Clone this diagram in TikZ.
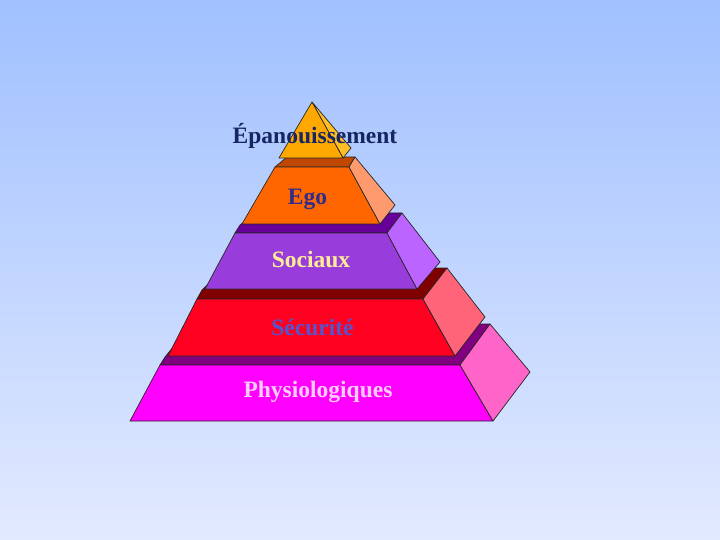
\documentclass[tikz,border=0pt]{standalone}
\usepackage{fontspec}
\setmainfont{Liberation Serif}
\begin{document}
\begin{tikzpicture}[x=1pt,y=-1pt,
  face/.style={draw=black!85, line width=0.7pt, line join=round},
  lbl/.style={anchor=base, inner sep=0pt, font=\fontsize{23.5}{26}\selectfont\bfseries}]
\definecolor{bgtop}{RGB}{160,192,255}
\definecolor{bgbot}{RGB}{226,234,255}
\definecolor{triF}{RGB}{255,168,0}
\definecolor{triS}{RGB}{255,190,40}
\definecolor{egoF}{RGB}{255,102,0}
\definecolor{egoT}{RGB}{192,72,0}
\definecolor{egoS}{RGB}{255,153,110}
\definecolor{socF}{RGB}{153,60,220}
\definecolor{socT}{RGB}{102,0,153}
\definecolor{socS}{RGB}{187,100,255}
\definecolor{secF}{RGB}{255,0,32}
\definecolor{secT}{RGB}{128,0,0}
\definecolor{secS}{RGB}{255,100,120}
\definecolor{phyF}{RGB}{255,0,255}
\definecolor{phyT}{RGB}{128,0,128}
\definecolor{phyS}{RGB}{255,100,200}
\definecolor{txtA}{RGB}{22,38,100}
\definecolor{txtB}{RGB}{45,45,140}
\definecolor{txtC}{RGB}{255,238,150}
\definecolor{txtD}{RGB}{85,85,204}
\definecolor{txtE}{RGB}{255,204,255}
\useasboundingbox (0,0) rectangle (720,540);
\shade[top color=bgtop, bottom color=bgbot] (0,0) rectangle (720,540);
% Physiologiques
\filldraw[face, fill=phyT] (160,365) -- (460,365) -- (490,324) -- (192,324) -- (165,357) -- cycle;
\filldraw[face, fill=phyF] (160,365) -- (460,365) -- (493,421) -- (130,421) -- cycle;
\filldraw[face, fill=phyS] (460,365) -- (490,324) -- (530,372) -- (493,421) -- cycle;
% Securite
\filldraw[face, fill=secT] (197,299) -- (423,299) -- (447,268) -- (225,268) -- (202,290) -- cycle;
\filldraw[face, fill=secF] (197,299) -- (423,299) -- (455,356) -- (168,356) -- cycle;
\filldraw[face, fill=secS] (423,299) -- (447,268) -- (485,317) -- (455,356) -- cycle;
% Sociaux
\filldraw[face, fill=socT] (235,233) -- (387,233) -- (402,213) -- (256,213) -- (240,225) -- cycle;
\filldraw[face, fill=socF] (235,233) -- (387,233) -- (417,289) -- (205,289) -- cycle;
\filldraw[face, fill=socS] (387,233) -- (402,213) -- (440,262) -- (417,289) -- cycle;
% Ego
\filldraw[face, fill=egoT] (275,167) -- (349,167) -- (355,157) -- (287,157) -- cycle;
\filldraw[face, fill=egoF] (275,167) -- (349,167) -- (380,224) -- (242,224) -- cycle;
\filldraw[face, fill=egoS] (349,167) -- (355,157) -- (395,205) -- (380,224) -- cycle;
% Epanouissement
\filldraw[face, fill=triS] (312,102) -- (343,158) -- (351,148) -- cycle;
\filldraw[face, fill=triF] (312,102) -- (279,158) -- (343,158) -- cycle;
% labels
\node[lbl, text=txtA] (tA) at (315,143.5) {Épanouissement};
\node[lbl, text=txtB] (tB) at (307.5,205) {Ego};
\node[lbl, text=txtC] (tC) at (311,267.5) {Sociaux};
\node[lbl, text=txtD] (tD) at (312.5,335.5) {Sécurité};
\node[lbl, text=txtE] (tE) at (318,397.5) {Physiologiques};
\end{tikzpicture}
\end{document}
